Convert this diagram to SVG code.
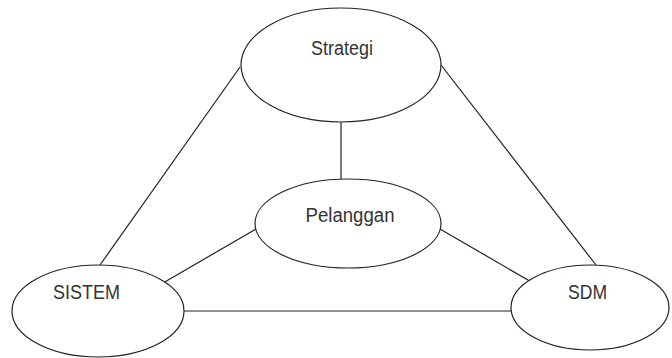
<svg xmlns="http://www.w3.org/2000/svg" width="672" height="358" viewBox="0 0 672 358">
<style>
.node ellipse{fill:#fff;stroke:#222;stroke-width:1.2}
.node text{font-family:"Liberation Sans",Arial,sans-serif;font-size:20px;fill:#333;text-anchor:middle}
#connectors line{stroke:#222;stroke-width:1.2}
</style>
<rect width="672" height="358" fill="#fff"/>
<g id="connectors">
<line x1="240" y1="67" x2="100" y2="265"/>
<line x1="441" y1="65" x2="596" y2="265"/>
<line x1="341" y1="122" x2="341" y2="179"/>
<line x1="256" y1="229" x2="163" y2="283"/>
<line x1="440" y1="229" x2="540" y2="287"/>
<line x1="184" y1="311" x2="511" y2="311"/>
</g>
<g id="strategi" class="node">
<ellipse cx="341" cy="65" rx="100" ry="57"/>
<text x="342" y="55" textLength="62" lengthAdjust="spacingAndGlyphs">Strategi</text>
</g>
<g id="pelanggan" class="node">
<ellipse cx="348" cy="223.5" rx="93" ry="44.5"/>
<text x="350" y="222" textLength="89" lengthAdjust="spacingAndGlyphs">Pelanggan</text>
</g>
<g id="sistem" class="node">
<ellipse cx="98" cy="311" rx="86" ry="46"/>
<text x="86.5" y="299" textLength="67" lengthAdjust="spacingAndGlyphs">SISTEM</text>
</g>
<g id="sdm" class="node">
<ellipse cx="590" cy="307.5" rx="79" ry="42.5"/>
<text x="587.5" y="299" textLength="39" lengthAdjust="spacingAndGlyphs">SDM</text>
</g>
</svg>
